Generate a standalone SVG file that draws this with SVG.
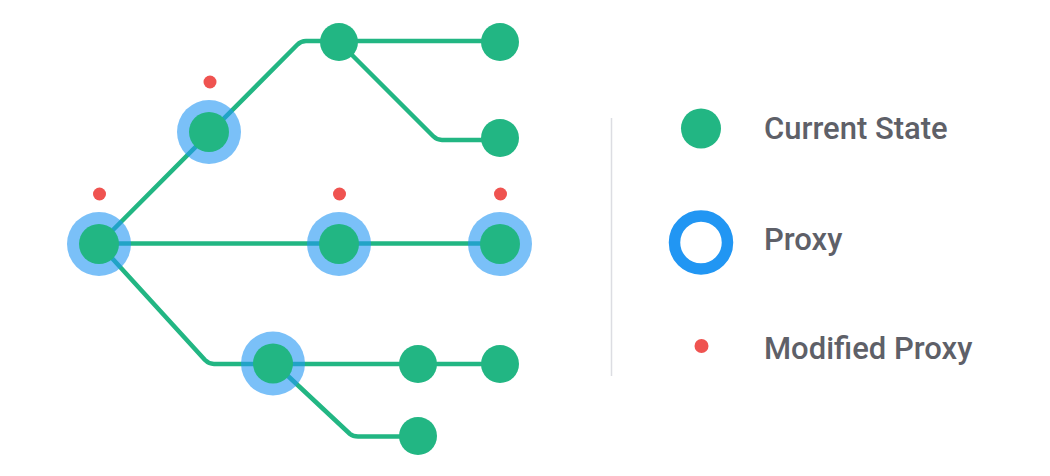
<svg xmlns="http://www.w3.org/2000/svg" width="1050" height="476" viewBox="0 0 1050 476">
<style>
.edge{fill:none;stroke:#22B683;stroke-width:4.5;stroke-linejoin:round;stroke-linecap:round}
.halo{fill:#2196F3;fill-opacity:0.6}
.state{fill:#22B683}
.mod{fill:#EF5350}
.lbl{font-family:Roboto,"Liberation Sans",sans-serif;font-weight:500;font-size:31px;fill:#5E6068}
</style>
<rect width="1050" height="476" fill="#FFFFFF"/>
<g id="connectors">
<path class="edge" d="M100,243 L297,45 Q301,41 306,41 L500,41"/>
<path class="edge" d="M339,42 L433,136 Q437,140 442,140 L500,140"/>
<path class="edge" d="M99,243.5 L500,243.5"/>
<path class="edge" d="M100,245 L205,360 Q209,364 214,364 L500,364"/>
<path class="edge" d="M273,362 L350,434 Q353,436.5 358,436.5 L418,436.5"/>
</g>
<g id="node-root"><circle class="halo" cx="99" cy="244" r="32"/><circle class="state" cx="99" cy="244" r="20"/><circle class="mod" cx="99.5" cy="194" r="6.5"/></g>
<g id="node-a"><circle class="halo" cx="209" cy="132" r="32"/><circle class="state" cx="209" cy="132" r="20"/><circle class="mod" cx="210" cy="82" r="6.5"/></g>
<g id="node-b"><circle class="state" cx="339" cy="42" r="19"/></g>
<g id="node-c"><circle class="state" cx="500" cy="42" r="19"/></g>
<g id="node-d"><circle class="state" cx="500" cy="138" r="19"/></g>
<g id="node-e"><circle class="halo" cx="339" cy="244" r="32"/><circle class="state" cx="339" cy="244" r="20"/><circle class="mod" cx="339.5" cy="194" r="6.5"/></g>
<g id="node-f"><circle class="halo" cx="500" cy="244" r="32"/><circle class="state" cx="500" cy="244" r="20"/><circle class="mod" cx="500.5" cy="194" r="6.5"/></g>
<g id="node-g"><circle class="halo" cx="273" cy="363.5" r="32"/><circle class="state" cx="273" cy="363.5" r="20"/></g>
<g id="node-h"><circle class="state" cx="418" cy="364" r="19"/></g>
<g id="node-i"><circle class="state" cx="500" cy="364" r="19"/></g>
<g id="node-j"><circle class="state" cx="418" cy="436" r="19"/></g>
<g id="legend">
<line x1="611.5" y1="118" x2="611.5" y2="376" stroke="#DCDDE2" stroke-width="1.5"/>
<circle class="state" cx="701" cy="128.5" r="20"/>
<text class="lbl" x="764" y="139.3">Current State</text>
<circle cx="701" cy="242.5" r="26.5" fill="none" stroke="#2196F3" stroke-width="11.5"/>
<text class="lbl" x="764" y="249.5">Proxy</text>
<circle class="mod" cx="701.5" cy="346" r="7"/>
<text class="lbl" x="764" y="358.5">Modified Proxy</text>
</g>
</svg>
